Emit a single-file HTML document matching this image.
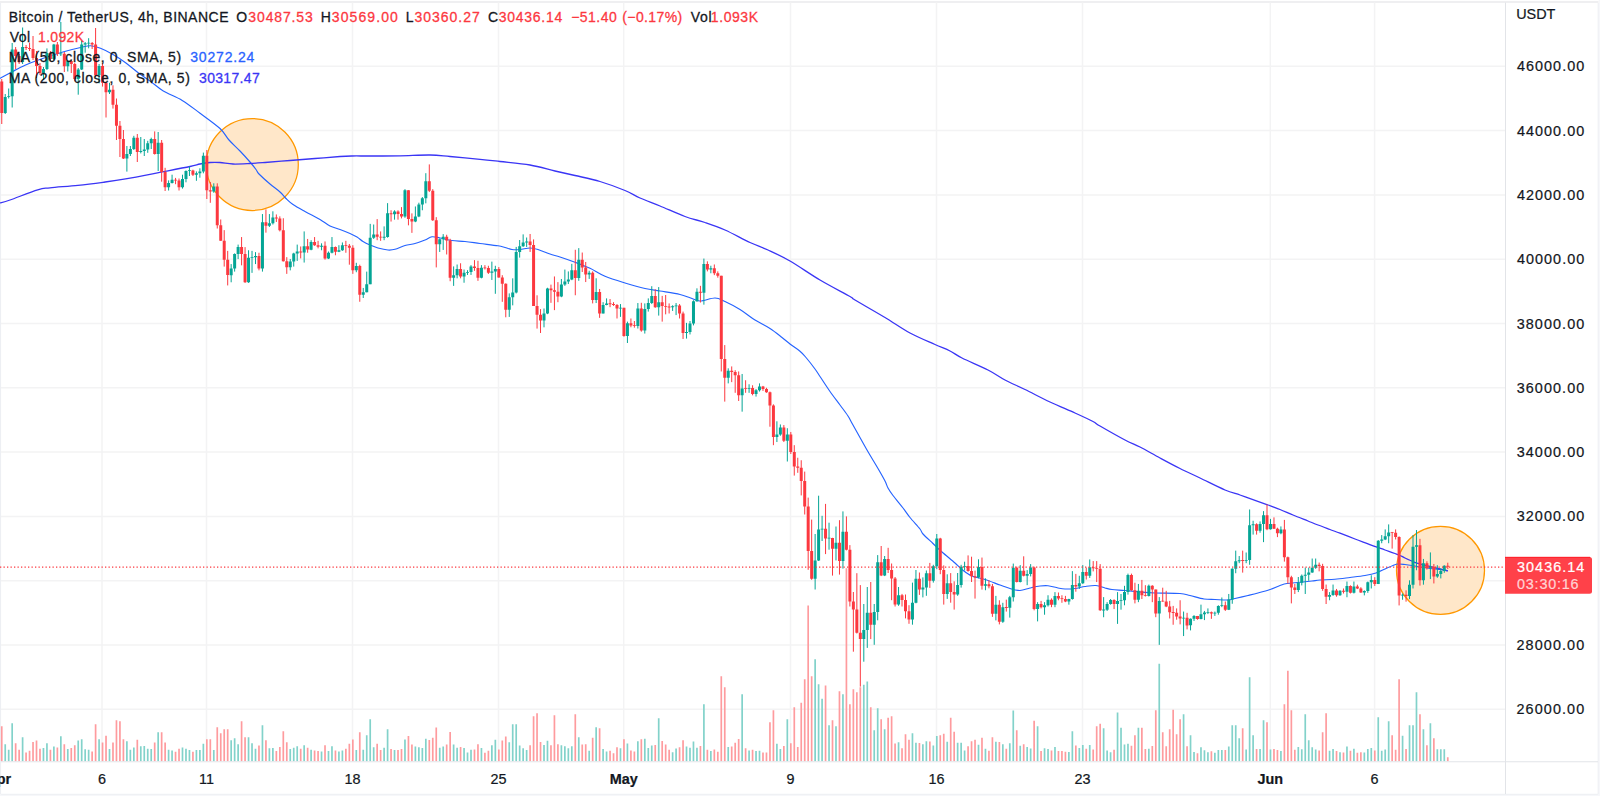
<!DOCTYPE html>
<html lang="en"><head><meta charset="utf-8"><title>Bitcoin / TetherUS, 4h, BINANCE</title>
<style>html,body{margin:0;padding:0;background:#fff;}body{width:1600px;height:796px;overflow:hidden;}svg{display:block}text{font-family:"Liberation Sans",sans-serif;}.lg{font-size:14px;fill:#131722;stroke:#131722;stroke-width:.28px}.ax{font-size:14.4px;fill:#131722;stroke:#131722;stroke-width:.22px}</style></head><body>
<svg width="1600" height="796" viewBox="0 0 1600 796">
<rect width="1600" height="796" fill="#f6f7fa"/>
<rect x="0" y="0" width="1598.6" height="794.6" fill="#fff"/>
<path d="M0 2H1598.5" stroke="#efeff1" stroke-width="1.8" fill="none"/>
<path d="M0.6 3V794.3H1598.2V3" stroke="#eceef2" stroke-width="1" fill="none"/>
<path d="M102 2.5V761.75M206.5 2.5V761.75M352.5 2.5V761.75M498.5 2.5V761.75M623.7 2.5V761.75M790.5 2.5V761.75M936.5 2.5V761.75M1082.5 2.5V761.75M1270.3 2.5V761.75M1374.6 2.5V761.75M1 66.3H1505.5M1 130.6H1505.5M1 194.9H1505.5M1 259.2H1505.5M1 323.5H1505.5M1 387.8H1505.5M1 452.1H1505.5M1 516.4H1505.5M1 580.7H1505.5M1 645H1505.5M1 709.3H1505.5" stroke="#f3f3f4" stroke-width="1.5" fill="none"/>
<defs><clipPath id="cp"><rect x="0" y="2.5" width="1505.5" height="759.25"/></clipPath></defs>
<g clip-path="url(#cp)">
<circle cx="252.3" cy="164.5" r="46" fill="#ffe7c9" stroke="#ff9800" stroke-width="1.25"/>
<circle cx="1440.5" cy="570.4" r="44" fill="#ffe7c9" stroke="#ff9800" stroke-width="1.25"/>
<path d="M4.38 761.25v-17h1.7v17zM7.85 761.25v-11.5h1.7v11.5zM11.33 761.25v-38h1.7v38zM21.76 761.25v-24h1.7v24zM42.61 761.25v-13.15h1.7v13.15zM46.09 761.25v-17.88h1.7v17.88zM53.04 761.25v-14.86h1.7v14.86zM59.99 761.25v-25h1.7v25zM66.94 761.25v-12.32h1.7v12.32zM77.37 761.25v-20.69h1.7v20.69zM80.85 761.25v-22.11h1.7v22.11zM84.32 761.25v-11.89h1.7v11.89zM87.8 761.25v-11.55h1.7v11.55zM98.23 761.25v-22h1.7v22zM108.66 761.25v-12.16h1.7v12.16zM126.04 761.25v-20.08h1.7v20.08zM129.51 761.25v-11.5h1.7v11.5zM132.99 761.25v-13.81h1.7v13.81zM139.94 761.25v-15.02h1.7v15.02zM143.42 761.25v-15.35h1.7v15.35zM146.89 761.25v-12.6h1.7v12.6zM150.37 761.25v-12.22h1.7v12.22zM157.32 761.25v-29h1.7v29zM167.75 761.25v-11.55h1.7v11.55zM171.22 761.25v-10.84h1.7v10.84zM181.65 761.25v-13.65h1.7v13.65zM185.13 761.25v-12.55h1.7v12.55zM188.6 761.25v-11.17h1.7v11.17zM195.56 761.25v-11.17h1.7v11.17zM199.03 761.25v-11.17h1.7v11.17zM202.51 761.25v-17.39h1.7v17.39zM212.94 761.25v-11.23h1.7v11.23zM230.32 761.25v-21h1.7v21zM233.79 761.25v-23h1.7v23zM237.27 761.25v-17h1.7v17zM247.7 761.25v-23.96h1.7v23.96zM251.17 761.25v-18.09h1.7v18.09zM254.65 761.25v-12.56h1.7v12.56zM261.6 761.25v-36h1.7v36zM268.55 761.25v-13.12h1.7v13.12zM272.03 761.25v-13.26h1.7v13.26zM289.41 761.25v-12.22h1.7v12.22zM292.88 761.25v-13.6h1.7v13.6zM296.36 761.25v-14.98h1.7v14.98zM303.31 761.25v-16h1.7v16zM310.26 761.25v-11.53h1.7v11.53zM320.69 761.25v-9.8h1.7v9.8zM327.64 761.25v-10.15h1.7v10.15zM331.12 761.25v-14.98h1.7v14.98zM338.07 761.25v-9.8h1.7v9.8zM341.55 761.25v-10.63h1.7v10.63zM355.45 761.25v-11.18h1.7v11.18zM362.4 761.25v-11.53h1.7v11.53zM365.88 761.25v-26h1.7v26zM369.36 761.25v-42h1.7v42zM372.83 761.25v-13.95h1.7v13.95zM383.26 761.25v-13.6h1.7v13.6zM386.74 761.25v-32h1.7v32zM393.69 761.25v-11.18h1.7v11.18zM404.12 761.25v-21.75h1.7v21.75zM414.54 761.25v-14.64h1.7v14.64zM418.02 761.25v-13.95h1.7v13.95zM421.5 761.25v-13.26h1.7v13.26zM424.97 761.25v-22.58h1.7v22.58zM438.88 761.25v-13.39h1.7v13.39zM442.35 761.25v-14.71h1.7v14.71zM452.78 761.25v-16.71h1.7v16.71zM456.26 761.25v-13.6h1.7v13.6zM463.21 761.25v-13.26h1.7v13.26zM466.68 761.25v-8.63h1.7v8.63zM470.16 761.25v-11.39h1.7v11.39zM480.59 761.25v-13.26h1.7v13.26zM491.02 761.25v-16.09h1.7v16.09zM494.49 761.25v-21.41h1.7v21.41zM508.4 761.25v-18.92h1.7v18.92zM511.87 761.25v-37h1.7v37zM515.35 761.25v-37h1.7v37zM518.82 761.25v-15.67h1.7v15.67zM522.3 761.25v-12.91h1.7v12.91zM525.78 761.25v-11.18h1.7v11.18zM543.16 761.25v-16.36h1.7v16.36zM546.63 761.25v-20.51h1.7v20.51zM560.54 761.25v-16.02h1.7v16.02zM564.01 761.25v-14.98h1.7v14.98zM567.49 761.25v-12.91h1.7v12.91zM570.96 761.25v-14.98h1.7v14.98zM577.92 761.25v-23.96h1.7v23.96zM588.34 761.25v-10.49h1.7v10.49zM595.3 761.25v-34h1.7v34zM602.25 761.25v-12.22h1.7v12.22zM605.72 761.25v-9.8h1.7v9.8zM619.63 761.25v-13.05h1.7v13.05zM626.58 761.25v-17.75h1.7v17.75zM637.01 761.25v-20.03h1.7v20.03zM643.96 761.25v-22.58h1.7v22.58zM647.44 761.25v-13.26h1.7v13.26zM650.91 761.25v-15.81h1.7v15.81zM657.86 761.25v-43h1.7v43zM671.77 761.25v-9.11h1.7v9.11zM675.24 761.25v-12.63h1.7v12.63zM685.67 761.25v-14.64h1.7v14.64zM689.15 761.25v-13.39h1.7v13.39zM692.62 761.25v-19.82h1.7v19.82zM696.1 761.25v-13.39h1.7v13.39zM703.05 761.25v-57h1.7v57zM710 761.25v-10.15h1.7v10.15zM727.38 761.25v-14.29h1.7v14.29zM741.29 761.25v-67h1.7v67zM748.24 761.25v-10.7h1.7v10.7zM755.19 761.25v-10.15h1.7v10.15zM758.67 761.25v-10.49h1.7v10.49zM776.05 761.25v-17.4h1.7v17.4zM779.52 761.25v-12.22h1.7v12.22zM786.48 761.25v-42h1.7v42zM814.28 761.25v-102h1.7v102zM817.76 761.25v-77h1.7v77zM821.24 761.25v-62.5h1.7v62.5zM828.19 761.25v-36h1.7v36zM835.14 761.25v-35h1.7v35zM842.09 761.25v-67h1.7v67zM862.95 761.25v-76.5h1.7v76.5zM866.42 761.25v-79.7h1.7v79.7zM873.38 761.25v-31h1.7v31zM876.85 761.25v-53h1.7v53zM883.8 761.25v-32h1.7v32zM897.71 761.25v-19h1.7v19zM911.61 761.25v-28h1.7v28zM915.09 761.25v-18.5h1.7v18.5zM922.04 761.25v-17h1.7v17zM925.52 761.25v-19.91h1.7v19.91zM932.47 761.25v-15.79h1.7v15.79zM935.94 761.25v-25.36h1.7v25.36zM946.37 761.25v-19.53h1.7v19.53zM956.8 761.25v-18.54h1.7v18.54zM960.28 761.25v-18.54h1.7v18.54zM963.75 761.25v-10.84h1.7v10.84zM977.66 761.25v-16.45h1.7v16.45zM984.61 761.25v-12.56h1.7v12.56zM995.04 761.25v-19.47h1.7v19.47zM1001.99 761.25v-17.06h1.7v17.06zM1008.94 761.25v-17.95h1.7v17.95zM1012.42 761.25v-50.7h1.7v50.7zM1019.37 761.25v-15.54h1.7v15.54zM1026.32 761.25v-14.29h1.7v14.29zM1029.8 761.25v-12.77h1.7v12.77zM1036.75 761.25v-35h1.7v35zM1043.7 761.25v-12.91h1.7v12.91zM1047.18 761.25v-12.22h1.7v12.22zM1054.13 761.25v-14.29h1.7v14.29zM1068.03 761.25v-9.25h1.7v9.25zM1071.51 761.25v-30h1.7v30zM1078.46 761.25v-13.26h1.7v13.26zM1081.94 761.25v-16.36h1.7v16.36zM1088.89 761.25v-16.16h1.7v16.16zM1102.79 761.25v-33h1.7v33zM1106.27 761.25v-10.84h1.7v10.84zM1109.74 761.25v-9.11h1.7v9.11zM1116.7 761.25v-48.8h1.7v48.8zM1120.17 761.25v-33.5h1.7v33.5zM1123.65 761.25v-16.71h1.7v16.71zM1127.12 761.25v-17.54h1.7v17.54zM1137.55 761.25v-33.5h1.7v33.5zM1147.98 761.25v-12.56h1.7v12.56zM1158.41 761.25v-97.6h1.7v97.6zM1182.74 761.25v-47h1.7v47zM1189.69 761.25v-26h1.7v26zM1193.17 761.25v-9.25h1.7v9.25zM1200.12 761.25v-14.08h1.7v14.08zM1203.6 761.25v-11.04h1.7v11.04zM1207.07 761.25v-9.11h1.7v9.11zM1214.02 761.25v-8.42h1.7v8.42zM1217.5 761.25v-11.18h1.7v11.18zM1220.98 761.25v-11.32h1.7v11.32zM1227.93 761.25v-14.84h1.7v14.84zM1231.4 761.25v-36h1.7v36zM1234.88 761.25v-36h1.7v36zM1238.36 761.25v-23h1.7v23zM1245.31 761.25v-11.87h1.7v11.87zM1248.78 761.25v-84h1.7v84zM1252.26 761.25v-26h1.7v26zM1259.21 761.25v-12.22h1.7v12.22zM1262.69 761.25v-41h1.7v41zM1269.64 761.25v-11.87h1.7v11.87zM1280.07 761.25v-10.28h1.7v10.28zM1297.45 761.25v-14.29h1.7v14.29zM1300.92 761.25v-12.01h1.7v12.01zM1304.4 761.25v-47h1.7v47zM1307.88 761.25v-21h1.7v21zM1311.35 761.25v-13.88h1.7v13.88zM1314.83 761.25v-11.67h1.7v11.67zM1328.73 761.25v-10.49h1.7v10.49zM1332.21 761.25v-12.22h1.7v12.22zM1339.16 761.25v-9.11h1.7v9.11zM1346.11 761.25v-14.64h1.7v14.64zM1353.06 761.25v-12.56h1.7v12.56zM1363.49 761.25v-8.76h1.7v8.76zM1366.97 761.25v-12.22h1.7v12.22zM1370.44 761.25v-13.26h1.7v13.26zM1377.4 761.25v-44h1.7v44zM1380.87 761.25v-10.49h1.7v10.49zM1384.35 761.25v-11.87h1.7v11.87zM1387.82 761.25v-40h1.7v40zM1401.73 761.25v-25.5h1.7v25.5zM1408.68 761.25v-36h1.7v36zM1412.16 761.25v-36h1.7v36zM1415.63 761.25v-69h1.7v69zM1422.58 761.25v-32h1.7v32zM1429.54 761.25v-38h1.7v38zM1436.49 761.25v-12h1.7v12zM1439.96 761.25v-12h1.7v12zM1443.44 761.25v-12h1.7v12z" fill="#82d2ca"/>
<path d="M0.9 761.25v-35h1.7v35zM14.8 761.25v-18.1h1.7v18.1zM18.28 761.25v-11.5h1.7v11.5zM25.23 761.25v-8.75h1.7v8.75zM28.71 761.25v-10.62h1.7v10.62zM32.18 761.25v-19.2h1.7v19.2zM35.66 761.25v-20.85h1.7v20.85zM39.14 761.25v-12.6h1.7v12.6zM49.56 761.25v-11.5h1.7v11.5zM56.52 761.25v-13.7h1.7v13.7zM63.47 761.25v-17h1.7v17zM70.42 761.25v-13.15h1.7v13.15zM73.9 761.25v-15.9h1.7v15.9zM91.28 761.25v-9.85h1.7v9.85zM94.75 761.25v-37h1.7v37zM101.7 761.25v-18.81h1.7v18.81zM105.18 761.25v-25.53h1.7v25.53zM112.13 761.25v-18.81h1.7v18.81zM115.61 761.25v-41h1.7v41zM119.08 761.25v-40h1.7v40zM122.56 761.25v-21.95h1.7v21.95zM136.46 761.25v-21.4h1.7v21.4zM153.84 761.25v-18.76h1.7v18.76zM160.8 761.25v-29h1.7v29zM164.27 761.25v-18.76h1.7v18.76zM174.7 761.25v-9.46h1.7v9.46zM178.18 761.25v-12.6h1.7v12.6zM192.08 761.25v-9.47h1.7v9.47zM205.98 761.25v-22h1.7v22zM209.46 761.25v-22h1.7v22zM216.41 761.25v-34h1.7v34zM219.89 761.25v-28h1.7v28zM223.36 761.25v-32h1.7v32zM226.84 761.25v-32h1.7v32zM240.74 761.25v-40h1.7v40zM244.22 761.25v-24h1.7v24zM258.12 761.25v-15.67h1.7v15.67zM265.08 761.25v-21h1.7v21zM275.5 761.25v-10.15h1.7v10.15zM278.98 761.25v-14.29h1.7v14.29zM282.46 761.25v-30h1.7v30zM285.93 761.25v-19h1.7v19zM299.84 761.25v-12.56h1.7v12.56zM306.79 761.25v-13.6h1.7v13.6zM313.74 761.25v-10.84h1.7v10.84zM317.22 761.25v-10.15h1.7v10.15zM324.17 761.25v-16.02h1.7v16.02zM334.6 761.25v-10.84h1.7v10.84zM345.02 761.25v-12.56h1.7v12.56zM348.5 761.25v-17.4h1.7v17.4zM351.98 761.25v-21.75h1.7v21.75zM358.93 761.25v-29h1.7v29zM376.31 761.25v-17.61h1.7v17.61zM379.78 761.25v-11.18h1.7v11.18zM390.21 761.25v-12.22h1.7v12.22zM397.16 761.25v-11.18h1.7v11.18zM400.64 761.25v-12.22h1.7v12.22zM407.59 761.25v-25.35h1.7v25.35zM411.07 761.25v-16.71h1.7v16.71zM428.45 761.25v-21.2h1.7v21.2zM431.92 761.25v-23.48h1.7v23.48zM435.4 761.25v-33.64h1.7v33.64zM445.83 761.25v-16.85h1.7v16.85zM449.3 761.25v-29.35h1.7v29.35zM459.73 761.25v-14.29h1.7v14.29zM473.64 761.25v-11.87h1.7v11.87zM477.11 761.25v-17.06h1.7v17.06zM484.06 761.25v-8.42h1.7v8.42zM487.54 761.25v-10.49h1.7v10.49zM497.97 761.25v-11.87h1.7v11.87zM501.44 761.25v-20.65h1.7v20.65zM504.92 761.25v-24.66h1.7v24.66zM529.25 761.25v-15.88h1.7v15.88zM532.73 761.25v-45h1.7v45zM536.2 761.25v-48h1.7v48zM539.68 761.25v-19.13h1.7v19.13zM550.11 761.25v-16.02h1.7v16.02zM553.58 761.25v-46h1.7v46zM557.06 761.25v-17.06h1.7v17.06zM574.44 761.25v-47h1.7v47zM581.39 761.25v-16.71h1.7v16.71zM584.87 761.25v-17.06h1.7v17.06zM591.82 761.25v-23.62h1.7v23.62zM598.77 761.25v-33h1.7v33zM609.2 761.25v-10.49h1.7v10.49zM612.68 761.25v-8.07h1.7v8.07zM616.15 761.25v-13.95h1.7v13.95zM623.1 761.25v-21.89h1.7v21.89zM630.06 761.25v-10.84h1.7v10.84zM633.53 761.25v-9.66h1.7v9.66zM640.48 761.25v-21.89h1.7v21.89zM654.39 761.25v-16.23h1.7v16.23zM661.34 761.25v-20.16h1.7v20.16zM664.82 761.25v-16.64h1.7v16.64zM668.29 761.25v-11.53h1.7v11.53zM678.72 761.25v-13.95h1.7v13.95zM682.2 761.25v-21.06h1.7v21.06zM699.58 761.25v-15.19h1.7v15.19zM706.53 761.25v-11.53h1.7v11.53zM713.48 761.25v-11.87h1.7v11.87zM716.96 761.25v-9.45h1.7v9.45zM720.43 761.25v-85h1.7v85zM723.91 761.25v-74h1.7v74zM730.86 761.25v-14.64h1.7v14.64zM734.34 761.25v-18.44h1.7v18.44zM737.81 761.25v-22.24h1.7v22.24zM744.76 761.25v-12.91h1.7v12.91zM751.72 761.25v-11.53h1.7v11.53zM762.14 761.25v-8.76h1.7v8.76zM765.62 761.25v-8.76h1.7v8.76zM769.1 761.25v-39h1.7v39zM772.57 761.25v-51h1.7v51zM783 761.25v-15.33h1.7v15.33zM789.95 761.25v-18.09h1.7v18.09zM793.43 761.25v-54h1.7v54zM796.9 761.25v-14.29h1.7v14.29zM800.38 761.25v-58.6h1.7v58.6zM803.86 761.25v-82h1.7v82zM807.33 761.25v-155.7h1.7v155.7zM810.81 761.25v-85h1.7v85zM824.71 761.25v-75.7h1.7v75.7zM831.66 761.25v-41h1.7v41zM838.62 761.25v-70h1.7v70zM845.57 761.25v-193h1.7v193zM849.04 761.25v-57h1.7v57zM852.52 761.25v-72h1.7v72zM856 761.25v-69h1.7v69zM859.47 761.25v-74h1.7v74zM869.9 761.25v-54h1.7v54zM880.33 761.25v-42h1.7v42zM887.28 761.25v-43.5h1.7v43.5zM890.76 761.25v-45h1.7v45zM894.23 761.25v-17.7h1.7v17.7zM901.18 761.25v-13h1.7v13zM904.66 761.25v-27h1.7v27zM908.14 761.25v-21.6h1.7v21.6zM918.56 761.25v-18.32h1.7v18.32zM928.99 761.25v-19.75h1.7v19.75zM939.42 761.25v-26.02h1.7v26.02zM942.9 761.25v-27.56h1.7v27.56zM949.85 761.25v-43.5h1.7v43.5zM953.32 761.25v-29.5h1.7v29.5zM967.23 761.25v-14.97h1.7v14.97zM970.7 761.25v-19.91h1.7v19.91zM974.18 761.25v-21.4h1.7v21.4zM981.13 761.25v-23.62h1.7v23.62zM988.08 761.25v-10.49h1.7v10.49zM991.56 761.25v-24.1h1.7v24.1zM998.51 761.25v-19.27h1.7v19.27zM1005.46 761.25v-12.56h1.7v12.56zM1015.89 761.25v-31h1.7v31zM1022.84 761.25v-17.06h1.7v17.06zM1033.27 761.25v-40.6h1.7v40.6zM1040.22 761.25v-10.15h1.7v10.15zM1050.65 761.25v-10.84h1.7v10.84zM1057.6 761.25v-10.28h1.7v10.28zM1061.08 761.25v-10.15h1.7v10.15zM1064.56 761.25v-9.45h1.7v9.45zM1074.98 761.25v-15.81h1.7v15.81zM1085.41 761.25v-12.56h1.7v12.56zM1092.36 761.25v-11.67h1.7v11.67zM1095.84 761.25v-35h1.7v35zM1099.32 761.25v-37.5h1.7v37.5zM1113.22 761.25v-11.39h1.7v11.39zM1130.6 761.25v-15.47h1.7v15.47zM1134.08 761.25v-26h1.7v26zM1141.03 761.25v-33.5h1.7v33.5zM1144.5 761.25v-12.22h1.7v12.22zM1151.46 761.25v-15.33h1.7v15.33zM1154.93 761.25v-51h1.7v51zM1161.88 761.25v-29h1.7v29zM1165.36 761.25v-14.98h1.7v14.98zM1168.84 761.25v-32h1.7v32zM1172.31 761.25v-51.5h1.7v51.5zM1175.79 761.25v-27h1.7v27zM1179.26 761.25v-42h1.7v42zM1186.22 761.25v-15.12h1.7v15.12zM1196.64 761.25v-8.07h1.7v8.07zM1210.55 761.25v-10.01h1.7v10.01zM1224.45 761.25v-11.18h1.7v11.18zM1241.83 761.25v-33h1.7v33zM1255.74 761.25v-12.22h1.7v12.22zM1266.16 761.25v-39h1.7v39zM1273.12 761.25v-12.36h1.7v12.36zM1276.59 761.25v-11.18h1.7v11.18zM1283.54 761.25v-57h1.7v57zM1287.02 761.25v-90.5h1.7v90.5zM1290.5 761.25v-51h1.7v51zM1293.97 761.25v-11.53h1.7v11.53zM1318.3 761.25v-10.84h1.7v10.84zM1321.78 761.25v-29h1.7v29zM1325.26 761.25v-48h1.7v48zM1335.68 761.25v-10.28h1.7v10.28zM1342.64 761.25v-8.76h1.7v8.76zM1349.59 761.25v-10.49h1.7v10.49zM1356.54 761.25v-8.42h1.7v8.42zM1360.02 761.25v-9.11h1.7v9.11zM1373.92 761.25v-10.84h1.7v10.84zM1391.3 761.25v-26h1.7v26zM1394.78 761.25v-11.53h1.7v11.53zM1398.25 761.25v-82h1.7v82zM1405.2 761.25v-12.22h1.7v12.22zM1419.11 761.25v-47h1.7v47zM1426.06 761.25v-16h1.7v16zM1433.01 761.25v-23h1.7v23zM1446.92 761.25v-4h1.7v4z" fill="#fe9b9e"/>
<path d="M0 78.4C2.1 77.25 8.43 73.7 12.6 71.5C16.77 69.3 20.82 67.08 25 65.2C29.18 63.32 31.4 62.4 37.7 60.2C44 58 55.68 54.1 62.8 52C69.92 49.9 75.78 48.63 80.4 47.6C85.02 46.57 87.15 45.68 90.5 45.8C93.85 45.92 96.75 46.85 100.5 48.3C104.25 49.75 108.82 52.1 113 54.5C117.18 56.9 121.4 59.65 125.6 62.7C129.8 65.75 134 69.65 138.2 72.8C142.4 75.95 146.62 78.57 150.8 81.6C154.98 84.63 158.07 87.87 163.3 91C168.53 94.13 176.13 96.73 182.2 100.4C188.27 104.07 193.4 108.32 199.7 113C206 117.68 215.12 124 220 128.5C224.88 133 225.67 136.25 229 140C232.33 143.75 236.5 147.33 240 151C243.5 154.67 247.33 158.92 250 162C252.67 165.08 254.5 167.5 256 169.5C257.5 171.5 256.67 171.58 259 174C261.33 176.42 266.5 181 270 184C273.5 187 277.33 189.58 280 192C282.67 194.42 283.83 196.42 286 198.5C288.17 200.58 289.83 202.33 293 204.5C296.17 206.67 300.5 209 305 211.5C309.5 214 315.83 217.08 320 219.5C324.17 221.92 326.67 224.33 330 226C333.33 227.67 336.67 228.25 340 229.5C343.33 230.75 347.17 232.25 350 233.5C352.83 234.75 354.83 235.67 357 237C359.17 238.33 360.83 240.17 363 241.5C365.17 242.83 367.5 243.92 370 245C372.5 246.08 375 247.17 378 248C381 248.83 385.17 249.78 388 250C390.83 250.22 392.17 250.05 395 249.3C397.83 248.55 401.67 246.47 405 245.5C408.33 244.53 411.67 244.42 415 243.5C418.33 242.58 422.17 241.12 425 240C427.83 238.88 429.5 237.13 432 236.8C434.5 236.47 436.67 237.38 440 238C443.33 238.62 447.83 239.92 452 240.5C456.17 241.08 460.33 241 465 241.5C469.67 242 474.5 242.78 480 243.5C485.5 244.22 493.83 245.13 498 245.8C502.17 246.47 502.67 246.88 505 247.5C507.33 248.12 509.5 249.17 512 249.5C514.5 249.83 517 249.75 520 249.5C523 249.25 527 248 530 248C533 248 534.67 248.5 538 249.5C541.33 250.5 546.33 252.75 550 254C553.67 255.25 555.83 255.62 560 257C564.17 258.38 570 260.42 575 262.3C580 264.18 585 265.97 590 268.3C595 270.63 599.17 273.85 605 276.3C610.83 278.75 618.33 280.97 625 283C631.67 285.03 639.17 287.17 645 288.5C650.83 289.83 654.17 290 660 291C665.83 292 675 293.38 680 294.5C685 295.62 686.67 296.62 690 297.7C693.33 298.78 695.83 300.95 700 301C704.17 301.05 710.83 297.92 715 298C719.17 298.08 720.83 299.58 725 301.5C729.17 303.42 735 306.42 740 309.5C745 312.58 750 316.83 755 320C760 323.17 765.5 325.58 770 328.5C774.5 331.42 778.67 334.92 782 337.5C785.33 340.08 787 341.72 790 344C793 346.28 797.33 348.95 800 351.2C802.67 353.45 803.5 354.53 806 357.5C808.5 360.47 812.67 365.83 815 369C817.33 372.17 817.5 372.75 820 376.5C822.5 380.25 826.67 386.75 830 391.5C833.33 396.25 837 400.92 840 405C843 409.08 845.83 412.67 848 416C850.17 419.33 849.83 419.33 853 425C856.17 430.67 862.83 442.75 867 450C871.17 457.25 875 463.33 878 468.5C881 473.67 883.33 477.75 885 481C886.67 484.25 886.67 485.58 888 488C889.33 490.42 890.5 492.17 893 495.5C895.5 498.83 900.17 504.33 903 508C905.83 511.67 907.17 514 910 517.5C912.83 521 917.83 526.25 920 529C922.17 531.75 920.83 531.58 923 534C925.17 536.42 929.83 540.5 933 543.5C936.17 546.5 938.33 548.75 942 552C945.67 555.25 951.67 560.08 955 563C958.33 565.92 959.17 567.33 962 569.5C964.83 571.67 968.17 574.33 972 576C975.83 577.67 980.33 578 985 579.5C989.67 581 995.83 583.5 1000 585C1004.17 586.5 1006.67 587.58 1010 588.5C1013.33 589.42 1016.67 590.58 1020 590.5C1023.33 590.42 1026.67 588.75 1030 588C1033.33 587.25 1037 586.38 1040 586C1043 585.62 1045 585.37 1048 585.7C1051 586.03 1055.17 587.45 1058 588C1060.83 588.55 1062.17 588.92 1065 589C1067.83 589.08 1071.67 588.92 1075 588.5C1078.33 588.08 1081.5 587 1085 586.5C1088.5 586 1092.67 585.25 1096 585.5C1099.33 585.75 1102.33 587.33 1105 588C1107.67 588.67 1108.67 589.08 1112 589.5C1115.33 589.92 1120.33 590.08 1125 590.5C1129.67 590.92 1135 591.58 1140 592C1145 592.42 1148.33 592.75 1155 593C1161.67 593.25 1174.17 593.08 1180 593.5C1185.83 593.92 1186 594.58 1190 595.5C1194 596.42 1199.83 598.33 1204 599C1208.17 599.67 1211 599.33 1215 599.5C1219 599.67 1224.67 600.17 1228 600C1231.33 599.83 1231.67 599.25 1235 598.5C1238.33 597.75 1244.17 596.42 1248 595.5C1251.83 594.58 1254.33 594 1258 593C1261.67 592 1266.33 590.75 1270 589.5C1273.67 588.25 1277.17 586.5 1280 585.5C1282.83 584.5 1283.67 584.03 1287 583.5C1290.33 582.97 1295.83 582.72 1300 582.3C1304.17 581.88 1308.67 581.38 1312 581C1315.33 580.62 1316.17 580.28 1320 580C1323.83 579.72 1330 579.72 1335 579.3C1340 578.88 1345 578.13 1350 577.5C1355 576.87 1360.67 576.25 1365 575.5C1369.33 574.75 1372.67 574.08 1376 573C1379.33 571.92 1382.17 570.25 1385 569C1387.83 567.75 1390.83 566.33 1393 565.5C1395.17 564.67 1396 564.17 1398 564C1400 563.83 1402.67 564.25 1405 564.5C1407.33 564.75 1409.5 565.08 1412 565.5C1414.5 565.92 1416.17 566.42 1420 567C1423.83 567.58 1430.37 568.42 1435 569C1439.63 569.58 1445.67 570.25 1447.8 570.5" stroke="#2563ff" stroke-width="1.15" fill="none" stroke-linejoin="round"/>
<path d="M0 203C1.67 202.5 3.72 202.2 10 200C16.28 197.8 31.03 191.83 37.7 189.8C44.37 187.77 43.3 188.53 50 187.8C56.7 187.07 69.07 186.32 77.9 185.4C86.73 184.48 95.05 183.38 103 182.3C110.95 181.22 115.97 180.58 125.6 178.9C135.23 177.22 150.07 174.27 160.8 172.2C171.53 170.13 183.47 167.87 190 166.5C196.53 165.13 196.67 164.67 200 164C203.33 163.33 206.67 162.75 210 162.5C213.33 162.25 216.17 162.25 220 162.5C223.83 162.75 228 163.83 233 164C238 164.17 244.67 163.75 250 163.5C255.33 163.25 258.33 163 265 162.5C271.67 162 281.67 161.17 290 160.5C298.33 159.83 306.67 159.17 315 158.5C323.33 157.83 333.83 156.92 340 156.5C346.17 156.08 347 156.08 352 156C357 155.92 362 156.03 370 156C378 155.97 390 155.97 400 155.8C410 155.63 421.67 154.88 430 155C438.33 155.12 441.67 155.78 450 156.5C458.33 157.22 471.67 158.47 480 159.3C488.33 160.13 491.67 160.55 500 161.5C508.33 162.45 520.83 163.42 530 165C539.17 166.58 547.5 169.25 555 171C562.5 172.75 567.5 173.75 575 175.5C582.5 177.25 591.67 179 600 181.5C608.33 184 618.33 187.75 625 190.5C631.67 193.25 634.17 195.42 640 198C645.83 200.58 652.5 202.92 660 206C667.5 209.08 677.5 213.75 685 216.5C692.5 219.25 698.33 220.25 705 222.5C711.67 224.75 717.5 226.67 725 230C732.5 233.33 742.83 239.17 750 242.5C757.17 245.83 761.33 246.92 768 250C774.67 253.08 781.33 256 790 261C798.67 266 810 274.08 820 280C830 285.92 844.17 293.17 850 296.5C855.83 299.83 849.17 296.5 855 300C860.83 303.5 875.83 312 885 317.5C894.17 323 901.67 328.5 910 333C918.33 337.5 928.33 341.5 935 344.5C941.67 347.5 945.5 348.75 950 351C954.5 353.25 955.67 354.83 962 358C968.33 361.17 980.83 366.33 988 370C995.17 373.67 998.83 376.75 1005 380C1011.17 383.25 1017.5 385.83 1025 389.5C1032.5 393.17 1041.67 398.08 1050 402C1058.33 405.92 1067.83 409.75 1075 413C1082.17 416.25 1088.83 419.33 1093 421.5C1097.17 423.67 1094.67 422.92 1100 426C1105.33 429.08 1118.33 436.5 1125 440C1131.67 443.5 1134.17 444 1140 447C1145.83 450 1153.33 454.42 1160 458C1166.67 461.58 1173.33 465.17 1180 468.5C1186.67 471.83 1192.5 474.42 1200 478C1207.5 481.58 1218.33 487.17 1225 490C1231.67 492.83 1235 493.28 1240 495C1245 496.72 1250.33 498.63 1255 500.3C1259.67 501.97 1263.83 503.47 1268 505C1272.17 506.53 1275.83 507.83 1280 509.5C1284.17 511.17 1288.33 513.08 1293 515C1297.67 516.92 1303.83 519.33 1308 521C1312.17 522.67 1314.33 523.58 1318 525C1321.67 526.42 1326.33 528.13 1330 529.5C1333.67 530.87 1335.83 531.62 1340 533.2C1344.17 534.78 1350.33 537.23 1355 539C1359.67 540.77 1364.58 542.52 1368 543.8C1371.42 545.08 1372.67 545.67 1375.5 546.7C1378.33 547.73 1381.15 548.65 1385 550C1388.85 551.35 1395.27 553.47 1398.6 554.8C1401.93 556.13 1402.32 556.75 1405 558C1407.68 559.25 1412.2 561.3 1414.7 562.3C1417.2 563.3 1417.45 563.3 1420 564C1422.55 564.7 1426.67 565.67 1430 566.5C1433.33 567.33 1437.03 568.25 1440 569C1442.97 569.75 1446.5 570.67 1447.8 571" stroke="#3a35f5" stroke-width="1.3" fill="none" stroke-linejoin="round"/>
<path d="M5.23 94V114M8.7 88.5V98.5M12.18 43V107.5M22.61 27.5V64M43.46 67V80M46.94 48.4V70M53.89 43.9V60M60.84 22V56M67.79 60V71.5M78.22 68V94.7M81.7 40.7V70M85.17 42V52.7M88.65 38.2V48.3M99.08 64V83.4M109.51 82.8V94M126.89 146V171.6M130.36 146V156M133.84 135.8V150M140.79 137V153.4M144.27 139V156M147.74 140.8V152.8M151.22 137.7V149M158.17 132V171M168.6 180.4V190.5M172.07 174.7V183.5M182.5 174.7V188.6M185.98 170.4V182.3M189.45 166.6V176M196.41 171.4V180.8M199.88 168.3V177.7M203.36 152.6V173.3M213.79 183.3V192.8M231.17 264.07V282.29M234.64 253.39V271.61M238.12 244.6V259.05M248.55 250.25V282.91M252.02 250.88V272.86M255.5 252.14V264.07M262.45 214.07V271.61M269.4 214.07V227.01M272.88 211.31V224.5M290.26 259.05V270.35M293.73 252.76V266.58M297.21 244.6V260.93M304.16 231.41V262.56M311.11 240.2V250.25M321.54 243.34V250.25M328.49 251.51V259.05M331.97 237.06V253.39M338.92 245.23V252.14M342.4 242.46V250.88M356.3 262.81V272.24M363.25 287.94V297.99M366.73 271.61V292.34M370.21 223.87V284.17M373.68 224.5V238.94M384.11 226.38V240.2M387.59 203.14V237.69M394.54 210.25V219.67M404.97 189.15V217.79M415.39 206.48V222.19M418.87 202.71V217.16M422.35 197.06V210.25M425.82 173.19V203.34M439.73 238.52V251.96M443.2 234.12V249.95M453.63 266.41V285.88M457.11 264.52V278.34M464.06 269.55V282.74M467.53 270.18V274.95M471.01 265.15V274.95M481.44 265.15V278.34M491.87 261.63V279.97M495.34 265.78V293.79M509.25 293.42V316.91M512.72 278.34V305.35M516.2 246.93V293.42M519.67 240.03V257.61M523.15 234.37V246.93M526.63 237.51V246.93M544.01 308.49V327.34M547.48 287.76V314.15M561.39 278.97V297.19M564.86 269.55V285.88M568.34 271.43V283.99M571.81 263.84V280.18M578.77 248.14V280.8M589.19 270.75V278.92M596.15 278.29V303.04M603.1 302.16V313.47M606.57 298.39V305.3M620.48 304.05V316.86M627.43 321.63V342.99M637.86 303.04V328.54M644.81 303.42V333.57M648.29 298.39V311.58M651.76 286.21V304.05M658.71 287.09V315.6M672.62 305.3V310.95M676.09 303.04V315.1M686.52 322.89V338.59M690 321.01V334.45M693.47 300.28V325.4M696.95 288.34V301.78M703.9 258.57V304.67M710.85 265.73V273.27M728.23 368.32V383.39M742.14 373.97V411.66M749.09 384.27V392.81M756.04 389.05V396.58M759.52 383.39V391.56M776.9 421.31V442.04M780.37 424.45V435.75M787.33 428.22V461.51M815.13 534V589.5M818.61 495.7V561M822.09 515.8V541M829.04 522.7V549.7M835.99 526.5V560.4M842.94 511.4V568.6M863.8 604V661.7M867.27 587V647.9M874.23 604V644.8M877.7 555.1V620.3M884.65 556V576.1M898.56 587V605.8M912.46 582.6V624.7M915.94 570V603.3M922.89 577.4V597.4M926.37 570.5V595.8M933.32 564.8V582.6M936.79 534V569.2M947.22 574.3V598.9M957.65 573V595.8M961.13 564.8V587.6M964.6 561.7V570.5M978.51 559.3V578.3M985.46 578.29V590.23M995.89 595.88V620.38M1002.84 602.79V622.89M1009.79 595.88V617.61M1013.27 563.59V601.53M1020.22 565.1V582.44M1027.17 570.13V585.2M1030.65 564.1V576.41M1037.6 602.16V621.38M1044.55 602.16V614.72M1048.03 595.25V606.56M1054.98 592.11V607.19M1068.88 598.77V604.67M1072.36 571.13V599.65M1079.31 575.78V588.97M1082.79 565.1V583.94M1089.74 559.45V577.91M1103.64 597.14V617.24M1107.12 602.16V610.95M1110.59 599.02V604.67M1117.55 592.11V623.89M1121.02 593.99V609.7M1124.5 585.83V605.3M1127.97 573.64V594.62M1138.4 583.94V602.16M1148.83 584.57V596.51M1159.26 597.11V644.85M1183.59 611.56V636.06M1190.54 618.47V630.4M1194.02 615.08V620.98M1200.97 604.65V619.35M1204.45 610.93V620.1M1207.92 608.42V614.07M1214.87 611.56V615.95M1218.35 605.28V614.7M1221.83 597.49V607.16M1228.78 593.97V610.05M1232.25 568.22V603.77M1235.73 550.63V573.24M1239.21 556.03V563.19M1246.16 552.51V563.19M1249.63 509.47V564.75M1253.11 520.78V534.6M1260.06 521.41V532.71M1263.54 511.11V542.14M1270.49 518.89V529.57M1280.92 526.43V534.22M1298.3 577.01V592.09M1301.77 574.5V585.43M1305.25 567.59V593.97M1308.73 567.59V580.78M1312.2 558.54V572.86M1315.68 558.54V568.84M1329.58 592.09V600.25M1333.06 584.55V595.85M1340.01 590.2V595.85M1346.96 581.56V597.26M1353.91 581.56V593.49M1364.34 590.35V595.38M1367.82 581.56V592.86M1371.29 575.28V588.47M1378.25 540.1V584.07M1381.72 535.08V543.24M1385.2 529.42V540.1M1388.67 524.4V543.24M1402.58 593.49V599.77M1409.53 580.3V599.15M1413.01 535.08V588.47M1416.48 530.05V570.25M1423.43 558.94V584.7M1430.39 552.41V579.05M1437.34 565.23V577.79M1440.81 568.37V578.42M1444.29 565.23V572.76" stroke="#04a595" stroke-width="1" fill="none"/>
<path d="M1.75 79V124M15.65 47V69M19.13 54V64M26.08 45V50M29.56 42.6V51M33.03 36V60M36.51 51V78M39.99 63V75M50.41 51V61M57.37 42V56M64.32 52V72M71.27 60V73M74.75 63V81M92.13 42V49M95.6 28V77M102.55 63.3V86.6M106.03 82V117.5M112.98 85.3V108.6M116.46 98.5V140M119.93 121V157M123.41 130V159M137.31 134V162M154.69 131.4V154.6M161.65 140V181.7M165.12 167.8V191M175.55 177.9V184.2M179.03 178.5V190.5M192.93 169.7V176M206.83 150V199M210.31 182V202.8M217.26 183.3V228.5M220.74 219.47V240.83M224.21 230.15V266.58M227.69 250.88V285.43M241.59 237.06V265.33M245.07 247.11V282.91M258.97 252.76V270.35M265.93 209.42V232.66M276.35 214.45V221.98M279.83 216.33V231.41M283.31 218.22V261.56M286.78 257.16V273.87M300.69 246.48V258.42M307.64 238.94V252.76M314.59 237.06V245.85M318.07 240.83V248.37M325.02 241.46V259.67M335.45 246.48V255.28M345.87 240.83V252.76M349.35 243.97V264.7M352.83 245.23V273.87M359.78 264.7V301.76M377.16 219.1V240.2M380.63 231.41V240.83M391.06 210.25V221.56M398.01 210.25V219.67M401.49 207.11V218.42M408.44 190.15V225.33M411.92 213.39V232.86M429.3 164.4V192.04M432.77 189.15V220.93M436.25 217.16V267.41M446.68 234.75V254.47M450.15 238.77V281.23M460.58 263.27V278.34M474.49 260.13V270.8M477.96 260.75V280.85M484.91 265.15V269.55M488.39 265.78V273.94M498.82 267.04V277.71M502.29 275.2V301.83M505.77 283.37V317.29M530.1 233.99V251.96M533.58 239.4V305.98M537.05 295.3V328.59M540.53 309.12V332.99M550.96 284.62V302.84M554.43 276.46V310.13M557.91 282.11V302.21M575.29 249.77V295.25M582.24 252.54V272.01M585.72 261.96V282.06M592.67 271.38V303.42M599.62 288.97V317.86M610.05 299.02V307.19M613.53 302.16V305.93M617 304.05V318.49M623.95 307.81V336.71M630.91 318.49V327.29M634.38 321.01V327.66M641.33 302.79V331.68M655.24 289.22V307.81M662.19 295.88V321.63M665.67 295V314.35M669.14 303.42V313.47M679.57 304.05V318.49M683.05 311.58V338.97M700.43 285.83V302.54M707.38 261.33V271.38M714.33 264.47V275.15M717.81 271.38V277.66M721.28 275.78V371.46M724.76 345.08V401.61M731.71 366.43V382.14M735.19 370.2V392.81M738.66 371.46V400.98M745.61 380.25V392.81M752.57 385.28V395.33M762.99 385.9V390.93M766.47 387.79V392.81M769.95 391.56V426.73M773.42 404.35V445.18M783.85 425.08V442.04M790.8 431.98V453.97M794.28 445.18V475.58M797.75 457.74V472.81M801.23 460.25V495.43M804.71 471.6V514.5M808.18 497.6V569.8M811.66 519.6V579.8M825.56 503.9V554.1M832.51 537.8V575.6M839.47 520.2V574.6M846.42 516.4V550.4M849.89 545.1V606.5M853.37 592V651.7M856.85 573.2V633.5M860.32 585.1V686.6M870.75 582V639.1M881.18 546V576.1M888.13 547.8V573M891.61 563.5V600.2M895.08 577V606.5M902.03 593.9V606.5M905.51 594.5V618.4M908.99 605.2V623.8M919.41 572.5V594.9M929.84 562.9V587.9M940.27 537.8V574.2M943.75 565.4V604.6M950.7 573.1V602.7M954.17 581.3V609.6M968.08 555.4V571.7M971.55 556.7V582M975.03 570.6V598.6M981.98 557.56V589.6M988.93 580.18V588.34M992.41 583.94V616.86M999.36 600.28V624.4M1006.31 599.65V611.58M1016.74 566.61V582.44M1023.69 556.31V576.41M1034.12 566.61V610.33M1041.07 600.9V608.44M1051.5 598.39V607.19M1058.45 592.49V600.28M1061.93 595.25V602.79M1065.41 595.88V602.16M1075.83 573.89V591.73M1086.26 567.61V579.55M1093.21 561.08V571.38M1096.69 561.08V582.06M1100.17 564.1V610.95M1114.07 599.27V609.07M1131.45 573.64V590.85M1134.93 582.69V603.42M1141.88 579.92V599.02M1145.35 585.2V596.51M1152.31 585.2V602.16M1155.78 589.57V617.21M1162.73 587.69V601.76M1166.21 590.83V607.16M1169.69 600.88V618.47M1173.16 605.9V624.75M1176.64 608.42V619.72M1180.11 600.25V624.37M1187.07 612.81V629.4M1197.49 615.95V619.72M1211.4 611.56V618.84M1225.3 601.51V610.93M1242.68 550.63V572.61M1256.59 523.29V534.6M1267.01 504.45V530.2M1273.97 517.39V528.94M1277.44 527.69V537.11M1284.39 519.9V561.61M1287.87 556.58V583.59M1291.35 575.75V603.39M1294.82 583.92V593.97M1319.15 562.56V571.36M1322.63 563.82V590.83M1326.11 584.55V604.02M1336.53 588.94V596.73M1343.49 588.47V593.49M1350.44 585.33V593.49M1357.39 584.7V589.1M1360.87 587.21V592.86M1374.77 577.16V585.95M1392.15 531.93V548.64M1395.63 529.42V539.47M1399.1 536.33V605.43M1406.05 590.35V601.66M1419.96 538.84V585.58M1426.91 561.21V569.62M1433.86 563.97V583.44M1447.77 562.71V568.99" stroke="#fc383f" stroke-width="1" fill="none"/>
<path d="M3.73 97h3v16h-3zM7.2 96.25h3v0.8h-3zM10.68 49.5h3v46.8h-3zM21.11 47h3v15h-3zM41.96 69h3v4h-3zM45.44 53h3v16h-3zM52.39 44.5h3v14.5h-3zM59.34 53.45h3v0.8h-3zM66.29 61h3v5.3h-3zM76.72 69.6h3v9.4h-3zM80.2 44.5h3v25.1h-3zM83.67 43.2h3v1.3h-3zM87.15 42.7h3v0.8h-3zM97.58 65.9h3v9.4h-3zM108.01 89.7h3v2.5h-3zM125.39 154h3v4.4h-3zM128.86 149h3v5h-3zM132.34 137.7h3v11.3h-3zM139.29 151h3v1h-3zM142.77 149.6h3v1.4h-3zM146.24 143.3h3v6.3h-3zM149.72 139h3v4.3h-3zM156.67 142.7h3v11.3h-3zM167.1 183h3v4.3h-3zM170.57 179.8h3v3.2h-3zM181 179h3v8.3h-3zM184.48 171h3v8h-3zM187.95 170.3h3v0.8h-3zM194.91 173.3h3v1.4h-3zM198.38 171.4h3v1.9h-3zM201.86 155.7h3v15.7h-3zM212.29 186.5h3v5h-3zM229.67 268.47h3v6.66h-3zM233.14 254.02h3v14.45h-3zM236.62 247.11h3v6.91h-3zM247.05 257.79h3v24.5h-3zM250.52 257.07h3v0.8h-3zM254 255.9h3v1.26h-3zM260.95 222.36h3v46.11h-3zM267.9 223.24h3v2.51h-3zM271.38 217.59h3v5.65h-3zM288.76 261.56h3v5.65h-3zM292.23 253.39h3v8.17h-3zM295.71 251.51h3v1.88h-3zM302.66 246.23h3v6.28h-3zM309.61 242.09h3v7.54h-3zM320.04 245.85h3v0.88h-3zM326.99 252.76h3v5.65h-3zM330.47 247.11h3v5.65h-3zM337.42 250.25h3v1.51h-3zM340.9 245.23h3v5.03h-3zM354.8 265.95h3v4.4h-3zM361.75 292.34h3v2.51h-3zM365.23 284.17h3v8.17h-3zM368.71 237.69h3v46.48h-3zM372.18 234.55h3v3.14h-3zM382.61 236.85h3v0.8h-3zM386.09 213.19h3v23.87h-3zM393.04 211.51h3v2.76h-3zM403.47 190.15h3v26.38h-3zM413.89 216.53h3v5.03h-3zM417.37 204.6h3v11.93h-3zM420.85 198.32h3v6.28h-3zM424.32 181.36h3v16.96h-3zM438.23 239.15h3v5.03h-3zM441.7 236.63h3v2.51h-3zM452.13 275.2h3v2.51h-3zM455.61 268.92h3v6.28h-3zM462.56 272.69h3v3.77h-3zM466.03 271.97h3v0.8h-3zM469.51 266.41h3v5.65h-3zM479.94 267.66h3v10.05h-3zM490.37 271.43h3v1.26h-3zM493.84 268.92h3v2.51h-3zM507.75 297.19h3v12.56h-3zM511.22 292.54h3v4.65h-3zM514.7 251.96h3v40.58h-3zM518.17 246.31h3v5.65h-3zM521.65 242.54h3v3.77h-3zM525.13 241.53h3v1.01h-3zM542.51 313.52h3v6.91h-3zM545.98 288.39h3v25.13h-3zM559.89 284.62h3v11.93h-3zM563.36 281.48h3v3.14h-3zM566.84 279.6h3v1.88h-3zM570.31 270.13h3v9.47h-3zM577.27 259.82h3v18.09h-3zM587.69 272.64h3v1.88h-3zM594.65 292.11h3v7.91h-3zM601.6 305.05h3v8.42h-3zM605.07 303.42h3v1.63h-3zM618.98 307.73h3v0.8h-3zM625.93 323.14h3v12.94h-3zM636.36 308.44h3v17.59h-3zM643.31 309.07h3v21.36h-3zM646.79 303.04h3v6.03h-3zM650.26 295.88h3v7.16h-3zM657.21 302.16h3v5.03h-3zM671.12 306.31h3v0.88h-3zM674.59 305.53h3v0.8h-3zM685.02 332.06h3v0.88h-3zM688.5 323.52h3v8.54h-3zM691.97 301.28h3v22.24h-3zM695.45 291.73h3v9.55h-3zM702.4 264.1h3v28.64h-3zM709.35 268.24h3v1.26h-3zM726.73 370.83h3v6.91h-3zM740.64 388.42h3v6.91h-3zM747.59 388.02h3v0.8h-3zM754.54 390.3h3v3.77h-3zM758.02 386.53h3v3.77h-3zM775.4 434.5h3v2.51h-3zM778.87 427.59h3v6.91h-3zM785.83 434.5h3v6.28h-3zM813.63 560.4h3v18.3h-3zM817.11 529.6h3v30.8h-3zM820.59 528.7h3v0.9h-3zM827.54 537.8h3v0.8h-3zM834.49 542.8h3v6h-3zM841.44 531.8h3v29.2h-3zM862.3 630.1h3v9h-3zM865.77 612.7h3v17.4h-3zM872.73 612.1h3v12.6h-3zM876.2 562.3h3v49.8h-3zM883.15 559.1h3v16.5h-3zM897.06 595.2h3v9.4h-3zM910.96 602.7h3v16.9h-3zM914.44 578.8h3v23.9h-3zM921.39 587.4h3v2.1h-3zM924.87 573.2h3v14.2h-3zM931.82 566.2h3v14.5h-3zM935.29 538.4h3v27.8h-3zM945.72 583.2h3v10.7h-3zM956.15 585.1h3v9.4h-3zM959.63 566.8h3v18.3h-3zM963.1 566.05h3v0.8h-3zM977.01 567h3v10.5h-3zM983.96 584.2h3v1.63h-3zM994.39 604.67h3v9.17h-3zM1001.34 607.19h3v14.45h-3zM1008.29 597.14h3v10.68h-3zM1011.77 567.86h3v29.27h-3zM1018.72 570.75h3v11.31h-3zM1025.67 573.89h3v1.88h-3zM1029.15 567.61h3v6.28h-3zM1036.1 604.05h3v5.03h-3zM1043.05 605.3h3v1.88h-3zM1046.53 599.65h3v5.65h-3zM1053.48 595.88h3v8.79h-3zM1067.38 599.02h3v2.51h-3zM1070.86 584.95h3v14.07h-3zM1077.81 583.32h3v3.14h-3zM1081.29 572.01h3v11.31h-3zM1088.24 567.36h3v8.42h-3zM1102.14 609.61h3v0.8h-3zM1105.62 604.05h3v5.65h-3zM1109.09 599.9h3v4.15h-3zM1116.05 600.9h3v3.14h-3zM1119.52 600.19h3v0.8h-3zM1123 592.11h3v8.17h-3zM1126.47 574.9h3v17.21h-3zM1136.9 590.85h3v8.79h-3zM1147.33 585.83h3v10.05h-3zM1157.76 600.88h3v12.56h-3zM1182.09 617.75h3v0.8h-3zM1189.04 618.84h3v6.53h-3zM1192.52 615.95h3v2.89h-3zM1199.47 614.32h3v4.77h-3zM1202.95 612.56h3v1.76h-3zM1206.42 611.97h3v0.8h-3zM1213.37 612.73h3v0.8h-3zM1216.85 605.9h3v6.91h-3zM1220.33 605.19h3v0.8h-3zM1227.28 599.62h3v10.05h-3zM1230.75 568.84h3v30.78h-3zM1234.23 561.31h3v7.54h-3zM1237.71 560.3h3v1.01h-3zM1244.66 559.96h3v0.8h-3zM1248.13 525.18h3v34.87h-3zM1251.61 524.17h3v1.01h-3zM1258.56 523.92h3v6.91h-3zM1262.04 515.13h3v8.79h-3zM1268.99 523.92h3v5.28h-3zM1279.42 529.57h3v3.77h-3zM1296.8 582.66h3v7.29h-3zM1300.27 575.75h3v6.91h-3zM1303.75 574.87h3v0.88h-3zM1307.23 572.61h3v2.26h-3zM1310.7 567.84h3v4.77h-3zM1314.18 564.82h3v3.02h-3zM1328.08 594.97h3v1.76h-3zM1331.56 590.45h3v4.52h-3zM1338.51 590.83h3v4.4h-3zM1345.46 585.95h3v5.9h-3zM1352.41 586.58h3v6.28h-3zM1362.84 590.98h3v1.63h-3zM1366.32 582.19h3v8.79h-3zM1369.79 580.05h3v2.14h-3zM1376.75 540.73h3v43.34h-3zM1380.22 539.47h3v1.26h-3zM1383.7 536.33h3v3.14h-3zM1387.17 532.56h3v3.77h-3zM1401.08 594.66h3v0.8h-3zM1408.03 584.7h3v11.31h-3zM1411.51 546.63h3v38.07h-3zM1414.98 545.13h3v1.51h-3zM1421.93 563.34h3v16.96h-3zM1428.89 566.73h3v1.63h-3zM1435.84 574.02h3v2.51h-3zM1439.31 570.88h3v3.14h-3zM1442.79 565.85h3v5.03h-3z" fill="#04a595"/>
<path d="M0.25 81.6h3v31.4h-3zM14.15 49.5h3v6.5h-3zM17.63 56h3v6h-3zM24.58 47h3v1h-3zM28.06 48h3v1h-3zM31.53 49h3v9h-3zM35.01 58h3v8h-3zM38.49 66h3v7h-3zM48.91 53h3v6h-3zM55.87 44.5h3v9.5h-3zM62.82 53.7h3v12.6h-3zM69.77 61h3v3h-3zM73.25 64h3v15h-3zM90.63 43h3v1.5h-3zM94.1 44.5h3v30.8h-3zM101.05 65.9h3v16.9h-3zM104.53 82.8h3v9.4h-3zM111.48 89.7h3v15.1h-3zM114.96 104.8h3v21h-3zM118.43 125.8h3v13.2h-3zM121.91 139h3v19.4h-3zM135.81 137.7h3v14.3h-3zM153.19 139h3v15h-3zM160.15 142.7h3v29.3h-3zM163.62 172h3v15.3h-3zM174.05 179.7h3v0.8h-3zM177.53 180.4h3v6.9h-3zM191.43 170.4h3v4.3h-3zM205.33 155.7h3v34.6h-3zM208.81 190.3h3v1.2h-3zM215.76 186.5h3v38.8h-3zM219.24 225.3h3v15.53h-3zM222.71 240.83h3v18.84h-3zM226.19 259.67h3v15.45h-3zM240.09 247.11h3v6.91h-3zM243.57 254.02h3v28.27h-3zM257.47 255.9h3v12.56h-3zM264.43 222.36h3v3.39h-3zM274.85 217.59h3v1.01h-3zM278.33 218.59h3v11.56h-3zM281.81 230.15h3v31.16h-3zM285.28 261.31h3v5.9h-3zM299.19 251.51h3v1.01h-3zM306.14 246.23h3v3.39h-3zM313.09 242.09h3v3.14h-3zM316.57 245.23h3v1.51h-3zM323.52 245.85h3v12.56h-3zM333.95 247.11h3v4.65h-3zM344.37 245.14h3v0.8h-3zM347.85 245.85h3v1.88h-3zM351.33 247.74h3v22.61h-3zM358.28 265.95h3v28.89h-3zM375.66 234.55h3v2.26h-3zM379.13 236.72h3v0.8h-3zM389.56 213.19h3v1.08h-3zM396.51 211.51h3v2.51h-3zM399.99 214.02h3v2.51h-3zM406.94 190.15h3v28.89h-3zM410.42 219.05h3v2.51h-3zM427.8 181.36h3v9.42h-3zM431.27 190.78h3v29.52h-3zM434.75 220.3h3v23.87h-3zM445.18 236.63h3v3.77h-3zM448.65 240.4h3v37.31h-3zM459.08 268.92h3v7.54h-3zM472.99 266.41h3v1.51h-3zM476.46 267.91h3v9.8h-3zM483.41 267.39h3v0.8h-3zM486.89 267.91h3v4.77h-3zM497.32 268.92h3v8.54h-3zM500.79 277.46h3v6.28h-3zM504.27 283.74h3v26.01h-3zM528.6 241.53h3v3.52h-3zM532.08 245.05h3v60.93h-3zM535.55 305.98h3v8.79h-3zM539.03 314.77h3v5.65h-3zM549.46 288.39h3v1.88h-3zM552.93 290.28h3v1.51h-3zM556.41 291.78h3v4.77h-3zM573.79 270.13h3v7.79h-3zM580.74 259.82h3v7.79h-3zM584.22 267.61h3v6.91h-3zM591.17 272.64h3v27.39h-3zM598.12 292.11h3v21.36h-3zM608.55 303.33h3v0.8h-3zM612.03 304.05h3v1.01h-3zM615.5 305.05h3v3.39h-3zM622.45 307.81h3v28.27h-3zM629.41 323.14h3v2.26h-3zM632.88 325.32h3v0.8h-3zM639.83 308.44h3v21.98h-3zM653.74 295.88h3v11.31h-3zM660.69 302.16h3v3.77h-3zM664.17 305.93h3v0.88h-3zM667.64 306.6h3v0.8h-3zM678.07 305.55h3v7.91h-3zM681.55 313.47h3v19.47h-3zM698.93 291.73h3v1.01h-3zM705.88 264.1h3v5.4h-3zM712.83 268.24h3v5.03h-3zM716.31 273.27h3v2.51h-3zM719.78 275.78h3v83.12h-3zM723.26 358.89h3v18.84h-3zM730.21 370.83h3v1.26h-3zM733.69 372.09h3v3.14h-3zM737.16 375.23h3v20.1h-3zM744.11 388.21h3v0.8h-3zM751.07 388.04h3v6.03h-3zM761.49 386.53h3v2.51h-3zM764.97 389.05h3v3.14h-3zM768.45 392.19h3v13.19h-3zM771.92 405.38h3v31.63h-3zM782.35 427.59h3v13.19h-3zM789.3 434.5h3v17.59h-3zM792.78 452.09h3v14.45h-3zM796.25 466.53h3v1.26h-3zM799.73 467.79h3v13.19h-3zM803.21 480.98h3v25.42h-3zM806.68 506.4h3v44.6h-3zM810.16 551h3v27.7h-3zM824.06 528.7h3v9.7h-3zM831.01 538h3v10.8h-3zM837.97 542.8h3v18.2h-3zM844.92 531.8h3v17.9h-3zM848.39 549.7h3v51.7h-3zM851.87 601.4h3v8.2h-3zM855.35 609.6h3v23.2h-3zM858.82 632.8h3v6.3h-3zM869.25 612.7h3v12h-3zM879.68 562.3h3v13.3h-3zM886.63 559.1h3v11h-3zM890.11 570.1h3v8.5h-3zM893.58 578.6h3v26h-3zM900.53 595.2h3v4.7h-3zM904.01 599.9h3v11.3h-3zM907.49 611.2h3v8.4h-3zM917.91 578.8h3v10.7h-3zM928.34 573.2h3v7.5h-3zM938.77 538.4h3v31.5h-3zM942.25 569.9h3v24h-3zM949.2 583.2h3v8.8h-3zM952.67 592h3v2.5h-3zM966.58 566.1h3v4.9h-3zM970.05 571h3v5.3h-3zM973.53 576.3h3v1.2h-3zM980.48 567h3v18.83h-3zM987.43 584.2h3v2.01h-3zM990.91 586.21h3v27.64h-3zM997.86 604.67h3v16.96h-3zM1004.81 607.1h3v0.8h-3zM1015.24 567.86h3v14.2h-3zM1022.19 570.75h3v5.03h-3zM1032.62 567.61h3v41.46h-3zM1039.57 604.05h3v3.14h-3zM1050 599.65h3v5.03h-3zM1056.95 595.88h3v2.51h-3zM1060.43 598.31h3v0.8h-3zM1063.91 599.02h3v2.51h-3zM1074.33 584.95h3v1.51h-3zM1084.76 572.01h3v3.77h-3zM1091.71 567.36h3v0.88h-3zM1095.19 568.16h3v0.8h-3zM1098.67 568.87h3v41.46h-3zM1112.57 599.9h3v4.15h-3zM1129.95 574.9h3v15.33h-3zM1133.43 590.23h3v9.42h-3zM1140.38 590.85h3v4.4h-3zM1143.85 595.17h3v0.8h-3zM1150.81 585.83h3v3.77h-3zM1154.28 589.6h3v23.84h-3zM1161.23 600.79h3v0.8h-3zM1164.71 601.51h3v5.03h-3zM1168.19 606.53h3v5.65h-3zM1171.66 612.1h3v0.8h-3zM1175.14 612.81h3v3.77h-3zM1178.61 616.58h3v1.88h-3zM1185.57 617.84h3v7.54h-3zM1195.99 615.95h3v3.14h-3zM1209.9 612.19h3v1.26h-3zM1223.8 605.28h3v4.4h-3zM1241.18 560.09h3v0.8h-3zM1255.09 524.17h3v6.66h-3zM1265.51 515.13h3v14.07h-3zM1272.47 523.92h3v4.77h-3zM1275.94 528.69h3v4.65h-3zM1282.89 529.57h3v27.64h-3zM1286.37 557.21h3v20.1h-3zM1289.85 577.31h3v10.13h-3zM1293.32 587.44h3v2.51h-3zM1317.65 564.82h3v1.26h-3zM1321.13 566.08h3v22.86h-3zM1324.61 588.94h3v7.79h-3zM1335.03 590.45h3v4.77h-3zM1341.99 590.83h3v1.03h-3zM1348.94 585.95h3v6.91h-3zM1355.89 586.58h3v1.88h-3zM1359.37 588.47h3v4.15h-3zM1373.27 580.05h3v4.02h-3zM1390.65 532.29h3v0.8h-3zM1394.13 532.81h3v4.15h-3zM1397.6 536.96h3v58.42h-3zM1404.55 594.75h3v1.26h-3zM1418.46 545.13h3v35.18h-3zM1425.41 563.34h3v5.03h-3zM1432.36 566.73h3v9.8h-3zM1446.27 565.85h3v0.88h-3z" fill="#fc383f"/>
<path d="M0 567.1H1505.5" stroke="#fc383f" stroke-width="1.1" stroke-dasharray="1.3 2.2" fill="none"/>
</g>
<path d="M1505.5 2.5V794M1 761.75H1598" stroke="#e2e4e8" stroke-width="1" fill="none"/>
<text x="8.65" y="21.85" class="lg" id="x1" letter-spacing="0.489">Bitcoin / TetherUS, 4h, BINANCE</text>
<text x="236.34" y="21.85" class="lg" id="x2">O</text>
<text x="248.37" y="21.85" class="lg" id="x3" style="fill:#fc383f;stroke:#fc383f" letter-spacing="0.862">30487.53</text>
<text x="320.75" y="21.85" class="lg" id="x4">H</text>
<text x="331.87" y="21.85" class="lg" id="x5" style="fill:#fc383f;stroke:#fc383f" letter-spacing="1.081">30569.00</text>
<text x="405.75" y="21.85" class="lg" id="x6">L</text>
<text x="414.57" y="21.85" class="lg" id="x7" style="fill:#fc383f;stroke:#fc383f" letter-spacing="0.961">30360.27</text>
<text x="487.99" y="21.85" class="lg" id="x8">C</text>
<text x="498.67" y="21.85" class="lg" id="x9" style="fill:#fc383f;stroke:#fc383f" letter-spacing="0.748">30436.14</text>
<text x="571.21" y="21.85" class="lg" id="x10" style="fill:#fc383f;stroke:#fc383f" letter-spacing="0.462">−51.40</text>
<text x="622.33" y="21.85" class="lg" id="x11" style="fill:#fc383f;stroke:#fc383f" letter-spacing="0.376">(−0.17%)</text>
<text x="690.84" y="21.85" class="lg" id="x12" letter-spacing="0.610">Vol</text>
<text x="710.84" y="21.85" class="lg" id="x13" style="fill:#fc383f;stroke:#fc383f" letter-spacing="0.569">1.093K</text>
<text x="9.74" y="41.9" class="lg" id="x14" letter-spacing="0.510">Vol</text>
<text x="38.04" y="41.9" class="lg" id="x15" style="fill:#fc383f;stroke:#fc383f" letter-spacing="0.329">1.092K</text>
<text x="8.65" y="62.4" class="lg" id="x16" letter-spacing="0.570">MA (50, close, 0, SMA, 5)</text>
<text x="190.17" y="62.4" class="lg" id="x17" style="fill:#2962ff;stroke:#2962ff" letter-spacing="0.833">30272.24</text>
<text x="8.65" y="83" class="lg" id="x18" letter-spacing="0.588">MA (200, close, 0, SMA, 5)</text>
<text x="199.07" y="83" class="lg" id="x19" style="fill:#3a35f5;stroke:#3a35f5" letter-spacing="0.318">30317.47</text>
<text x="1516.29" y="18.85" class="ax" id="x20" letter-spacing="-0.050">USDT</text>
<text x="1516.88" y="71.35" class="ax" id="x21" letter-spacing="1.050">46000.00</text>
<text x="1516.88" y="135.65" class="ax" id="x22" letter-spacing="1.050">44000.00</text>
<text x="1516.88" y="199.95" class="ax" id="x23" letter-spacing="1.050">42000.00</text>
<text x="1516.88" y="264.25" class="ax" id="x24" letter-spacing="1.050">40000.00</text>
<text x="1516.65" y="328.55" class="ax" id="x25" letter-spacing="1.082">38000.00</text>
<text x="1516.65" y="392.85" class="ax" id="x26" letter-spacing="1.082">36000.00</text>
<text x="1516.65" y="457.15" class="ax" id="x27" letter-spacing="1.082">34000.00</text>
<text x="1516.65" y="521.45" class="ax" id="x28" letter-spacing="1.082">32000.00</text>
<text x="1516.65" y="585.75" class="ax" id="x29" letter-spacing="1.082">30000.00</text>
<text x="1516.48" y="650.05" class="ax" id="x30" letter-spacing="1.106">28000.00</text>
<text x="1516.48" y="714.35" class="ax" id="x31" letter-spacing="1.106">26000.00</text>
<path d="M1505 556.9h84.5a2.5 2.5 0 0 1 2.5 2.5v31.9a2.5 2.5 0 0 1 -2.5 2.5h-84.5z" fill="#ff4149"/>
<path d="M1505 557.3h85" stroke="#ff1a25" stroke-width="0.9" fill="none"/>
<text x="1517.05" y="571.9" class="ax" id="x32" style="fill:#fff;stroke:#fff" letter-spacing="1.034">30436.14</text>
<text x="1517.04" y="588.6" class="ax" id="x33" style="fill:#ffd3d5;stroke:#ffd3d5" letter-spacing="0.780">03:30:16</text>
<text x="-1.2" y="783.6" class="ax" id="x34" text-anchor="middle" font-weight="bold">Apr</text>
<text x="102" y="783.6" class="ax" id="x35" text-anchor="middle">6</text>
<text x="206.5" y="783.6" class="ax" id="x36" text-anchor="middle">11</text>
<text x="352.5" y="783.6" class="ax" id="x37" text-anchor="middle">18</text>
<text x="498.5" y="783.6" class="ax" id="x38" text-anchor="middle">25</text>
<text x="623.7" y="783.6" class="ax" id="x39" text-anchor="middle" font-weight="bold">May</text>
<text x="790.5" y="783.6" class="ax" id="x40" text-anchor="middle">9</text>
<text x="936.5" y="783.6" class="ax" id="x41" text-anchor="middle">16</text>
<text x="1082.5" y="783.6" class="ax" id="x42" text-anchor="middle">23</text>
<text x="1270.3" y="783.6" class="ax" id="x43" text-anchor="middle" font-weight="bold">Jun</text>
<text x="1374.6" y="783.6" class="ax" id="x44" text-anchor="middle">6</text>
</svg></body></html>
